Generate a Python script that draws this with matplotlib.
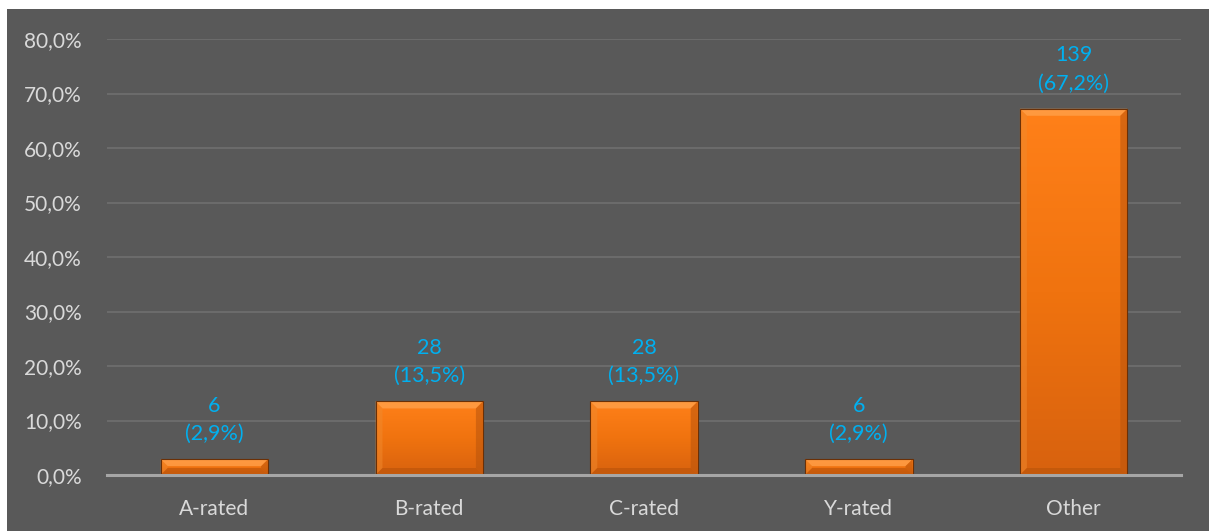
import numpy as np
import matplotlib.pyplot as plt
from matplotlib.patches import Rectangle, Polygon
from matplotlib.colors import LinearSegmentedColormap

plt.rcParams['font.family'] = ['Lato', 'DejaVu Sans']

categories = ['A-rated', 'B-rated', 'C-rated', 'Y-rated', 'Other']
counts = [6, 28, 28, 6, 139]
shares = [2.9, 13.5, 13.5, 2.9, 67.2]
yticks = [0, 10, 20, 30, 40, 50, 60, 70, 80]

bg = '#595959'
label_blue = '#00B0F0'
tick_grey = '#D9D9D9'

fig = plt.figure(figsize=(12.09, 5.31), dpi=100)
fig.patch.set_facecolor('white')
# dark chart area, leaving a thin white strip top and left
fig.patches.append(Rectangle((7 / 1209, 0), 1 - 7 / 1209, 1 - 9 / 531,
                             transform=fig.transFigure, facecolor=bg,
                             edgecolor='none', zorder=-10))

ax = fig.add_axes([107 / 1209, 1 - 475 / 531, (1181 - 107) / 1209, (475 - 39) / 531])
ax.set_facecolor('none')

x = np.arange(len(categories))
bars = ax.bar(x, shares, width=0.5, color='none', edgecolor='#6b3006',
              linewidth=0.8, zorder=3)

ax.set_xlim(-0.5, len(categories) - 0.5)
ax.set_ylim(0, 80)

# vertical orange gradient inside each bar
grad = LinearSegmentedColormap.from_list('bar', ['#D8620E', '#F0730F', '#FF8019'])
for b in bars:
    x0, y0 = b.get_x(), b.get_y()
    w, h = b.get_width(), b.get_height()
    img = ax.imshow(np.linspace(0, 1, 64).reshape(-1, 1), cmap=grad, aspect='auto',
                    origin='lower', extent=(x0, x0 + w, y0, y0 + h), zorder=2,
                    interpolation='bicubic')
    img.set_clip_path(b)

    # bevel edges, ~7px wide
    bx = 7 / 215
    by = 7 / 54.5 * 10
    by = min(by, h / 2.2)
    x1, y1 = x0 + w, y0 + h
    top = Polygon([(x0, y1), (x1, y1), (x1 - bx, y1 - by), (x0 + bx, y1 - by)],
                  closed=True, facecolor='#FFA04A', edgecolor='none', alpha=0.8, zorder=2.5)
    left = Polygon([(x0, y0), (x0, y1), (x0 + bx, y1 - by), (x0 + bx, y0 + by)],
                   closed=True, facecolor='#F08A2E', edgecolor='none', alpha=0.5, zorder=2.5)
    right = Polygon([(x1, y0), (x1, y1), (x1 - bx, y1 - by), (x1 - bx, y0 + by)],
                    closed=True, facecolor='#B9540C', edgecolor='none', alpha=0.55, zorder=2.5)
    bottom = Polygon([(x0, y0), (x1, y0), (x1 - bx, y0 + by), (x0 + bx, y0 + by)],
                     closed=True, facecolor='#B85309', edgecolor='none', alpha=0.6, zorder=2.5)
    for p in (top, left, right, bottom):
        ax.add_patch(p)

# value labels: count with share underneath
for xi, n, s in zip(x, counts, shares):
    ax.annotate(f'{n}\n({s:.1f}%)'.replace('.', ','), xy=(xi, s), xytext=(0, 11),
                textcoords='offset points', ha='center', va='bottom',
                color=label_blue, fontsize=15.5, linespacing=1.5, zorder=4)

ax.set_yticks(yticks)
ax.set_yticklabels([f'{v:.1f}%'.replace('.', ',') for v in yticks])
ax.set_xticks(x)
ax.set_xticklabels(categories)
ax.tick_params(axis='both', length=0, colors=tick_grey, labelsize=15)
ax.tick_params(axis='y', pad=18)
ax.tick_params(axis='x', pad=17)

ax.grid(axis='y', color='#6B6B6B', linewidth=1.5, zorder=1)
ax.set_axisbelow(True)
for side in ('top', 'right', 'left'):
    ax.spines[side].set_visible(False)
ax.spines['bottom'].set_color('#A6A6A6')
ax.spines['bottom'].set_linewidth(2.2)
ax.spines['bottom'].set_zorder(3.5)

fig.savefig('out.png', dpi=100, facecolor=fig.get_facecolor())
